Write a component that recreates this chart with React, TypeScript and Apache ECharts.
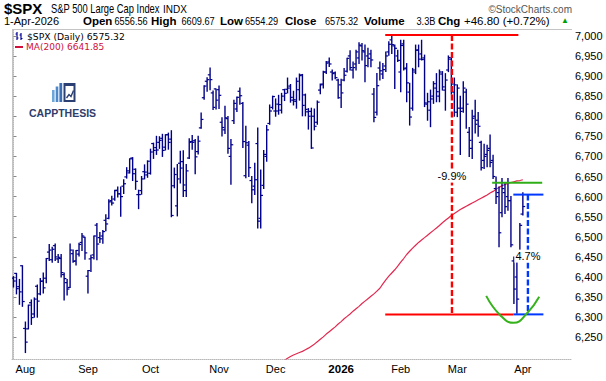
import React, { useEffect, useRef } from "react";
import * as echarts from "echarts";

// ---------- DATA ----------
// Daily OHLC, 28-Jul-2025 .. 1-Apr-2026 (index 0 = 28-Jul-2025)
const opens = [
  6397, 6409, 6376, 6428, 6272, 6271, 6336, 6308, 6377, 6358,
  6390, 6397, 6462, 6443, 6478, 6445, 6446, 6406, 6386, 6374,
  6458, 6440, 6457, 6486, 6499, 6402, 6445, 6455, 6529, 6498,
  6502, 6541, 6546, 6590, 6594, 6616, 6607, 6626, 6649, 6659,
  6696, 6668, 6605, 6615, 6662, 6654, 6658, 6732, 6722, 6735,
  6745, 6723, 6754, 6743, 6627, 6577, 6683, 6687, 6615, 6696,
  6737, 6739, 6712, 6771, 6846, 6887, 6903, 6858, 6868, 6866,
  6785, 6766, 6794, 6700, 6789, 6818, 6862, 6832, 6652, 6728,
  6640, 6626, 6732, 6546, 6628, 6700, 6782, 6822, 6813, 6830,
  6815, 6866, 6867, 6875, 6840, 6837, 6866, 6903, 6853, 6811,
  6812, 6800, 6785, 6865, 6880, 6910, 6935, 6910, 6908, 6890,
  6878, 6890, 6912, 6950, 6915, 6930, 6945, 6975, 6960, 6950,
  6955, 6855, 6810, 6920, 6905, 6925, 6960, 6990, 6975, 6950,
  6910, 6980, 6920, 6860, 6820, 6910, 6965, 6955, 6945, 6830,
  6815, 6850, 6870, 6850, 6905, 6865, 6915, 6942, 6860, 6810,
  6820, 6820, 6860, 6760, 6720, 6800, 6790, 6735, 6690, 6705,
  6720, 6690, 6620, 6610, 6560, 6610, 6600, 6590, 6440, 6400,
  6460, 6556.56,
];
const highs = [
  6401, 6409, 6394, 6428, 6288, 6330, 6343, 6348, 6380, 6396,
  6410, 6446, 6481, 6474, 6482, 6456, 6456, 6410, 6394, 6482,
  6467, 6466, 6484, 6508, 6499, 6416, 6454, 6502, 6533, 6511,
  6516, 6555, 6592, 6601, 6616, 6624, 6624, 6642, 6672, 6694,
  6697, 6669, 6616, 6650, 6679, 6689, 6718, 6733, 6750, 6749,
  6755, 6754, 6758, 6764, 6671, 6680, 6713, 6714, 6680, 6744,
  6752, 6742, 6750, 6808, 6876, 6896, 6920, 6863, 6868, 6875,
  6796, 6825, 6799, 6742, 6840, 6848, 6870, 6834, 6775, 6737,
  6650, 6683, 6771, 6666, 6715, 6777, 6828, 6850, 6843, 6852,
  6857, 6867, 6895, 6879, 6862, 6895, 6905, 6904, 6855, 6819,
  6820, 6818, 6838, 6880, 6912, 6936, 6945, 6915, 6910, 6892,
  6892, 6919, 6944, 6963, 6935, 6964, 6983, 6981, 6977, 6969,
  6964, 6869, 6906, 6935, 6931, 6960, 6985, 7002, 6977, 6964,
  6989, 6989, 6931, 6882, 6919, 6977, 6977, 6989, 6952, 6857,
  6865, 6886, 6906, 6915, 6911, 6906, 6950, 6946, 6895, 6878,
  6850, 6886, 6867, 6772, 6815, 6840, 6809, 6738, 6730, 6728,
  6753, 6703, 6649, 6624, 6645, 6633, 6645, 6600, 6450, 6440,
  6533, 6609.67,
];
const lows = [
  6375, 6358, 6332, 6327, 6212, 6271, 6282, 6300, 6300, 6356,
  6360, 6386, 6441, 6437, 6441, 6436, 6400, 6343, 6355, 6374,
  6437, 6430, 6452, 6466, 6444, 6360, 6414, 6445, 6443, 6486,
  6484, 6515, 6545, 6579, 6591, 6599, 6551, 6608, 6646, 6659,
  6640, 6618, 6570, 6606, 6644, 6648, 6656, 6695, 6705, 6720,
  6700, 6716, 6718, 6550, 6622, 6552, 6634, 6600, 6600, 6695,
  6718, 6657, 6706, 6770, 6842, 6862, 6866, 6817, 6818, 6819,
  6751, 6757, 6708, 6631, 6782, 6812, 6830, 6722, 6647, 6650,
  6585, 6605, 6522, 6522, 6620, 6688, 6780, 6818, 6800, 6805,
  6808, 6839, 6858, 6835, 6828, 6820, 6840, 6801, 6801, 6768,
  6720, 6766, 6780, 6856, 6870, 6906, 6924, 6890, 6893, 6845,
  6822, 6888, 6910, 6915, 6895, 6915, 6931, 6940, 6886, 6923,
  6923, 6786, 6803, 6890, 6894, 6911, 6952, 6956, 6869, 6936,
  6861, 6915, 6836, 6778, 6815, 6906, 6923, 6940, 6824, 6790,
  6774, 6832, 6836, 6836, 6865, 6815, 6911, 6855, 6800, 6799,
  6705, 6810, 6770, 6700, 6695, 6758, 6750, 6666, 6670, 6674,
  6674, 6645, 6583, 6475, 6550, 6558, 6566, 6475, 6334, 6310,
  6450, 6554.29,
];
const closes = [
  6390, 6371, 6363, 6339, 6238, 6330, 6299, 6345, 6340, 6389,
  6373, 6446, 6467, 6469, 6450, 6449, 6411, 6396, 6370, 6467,
  6439, 6466, 6481, 6502, 6460, 6416, 6448, 6502, 6482, 6495,
  6513, 6532, 6587, 6584, 6615, 6607, 6600, 6632, 6664, 6694,
  6657, 6638, 6605, 6644, 6661, 6688, 6711, 6715, 6716, 6740,
  6715, 6754, 6735, 6553, 6655, 6644, 6671, 6629, 6664, 6735,
  6735, 6699, 6738, 6792, 6875, 6891, 6891, 6822, 6840, 6852,
  6772, 6796, 6720, 6729, 6832, 6847, 6851, 6737, 6734, 6672,
  6617, 6642, 6539, 6603, 6705, 6766, 6813, 6849, 6813, 6829,
  6850, 6857, 6870, 6847, 6841, 6887, 6901, 6827, 6817, 6800,
  6721, 6775, 6835, 6878, 6910, 6932, 6930, 6906, 6896, 6846,
  6858, 6902, 6944, 6921, 6921, 6960, 6977, 6963, 6926, 6944,
  6940, 6797, 6876, 6913, 6916, 6950, 6979, 6978, 6969, 6939,
  6976, 6918, 6883, 6798, 6915, 6964, 6942, 6941, 6833, 6836,
  6843, 6881, 6861, 6910, 6873, 6890, 6946, 6880, 6878, 6870,
  6812, 6870, 6830, 6740, 6795, 6780, 6775, 6672, 6700, 6715,
  6685, 6650, 6600, 6510, 6620, 6575, 6590, 6480, 6370, 6345,
  6528.52, 6575.32,
];

// 200-day moving average, starting at bar index 91
const ma200Start = 91;
const ma200 = [
  6193, 6198, 6202, 6206, 6209, 6212, 6215, 6219, 6223, 6228,
  6233, 6239, 6245, 6251, 6258, 6264, 6270, 6276, 6283, 6289,
  6296, 6302, 6308, 6315, 6321, 6327, 6334, 6340, 6346, 6352,
  6358, 6365, 6372, 6383, 6393, 6402, 6410, 6418, 6427, 6437,
  6446, 6456, 6464, 6472, 6479, 6486, 6492, 6498, 6504, 6510,
  6516, 6522, 6528, 6535, 6541, 6547, 6553, 6558, 6563, 6568,
  6572, 6576, 6580, 6584, 6588, 6592, 6596, 6600, 6604, 6609,
  6613, 6618, 6623, 6627, 6630, 6633, 6635, 6637, 6639, 6640,
  6641.85,
];

// x-axis: first trading day of each month (bar index) and its label
const monthStarts = [4, 25, 46, 69, 88, 110, 130, 149, 171];
const monthLabels = ["Aug", "Sep", "Oct", "Nov", "Dec", "2026", "Feb", "Mar", "Apr"];
const priceTicks = [6250, 6300, 6350, 6400, 6450, 6500, 6550, 6600, 6650, 6700, 6750, 6800, 6850, 6900, 6950, 7000];

// header quote line
const quoteLabels = ["Open", "High", "Low", "Close", "Volume", "Chg"];
const quoteValues = ["6556.56", "6609.67", "6554.29", "6575.32", "3.3B", "+46.80 (+0.72%)"];

// annotations (in data units: bar index, price)
const peakPrice = 7002;
const lowPrice = 6307;
const reboundPrice = 6605;
const maLevelPrice = 6634.5;
const dropX = 147.2;
const reboundX = 172.7;
const smileX = [158.7, 163.4, 167.9, 172.4, 176.5];
const smileY = [6353, 6305, 6286, 6310, 6351];

const BAR = "#000088";
const FONT = '"Liberation Sans", Arial, sans-serif';

export default function App() {
  const ref = useRef<HTMLDivElement>(null);
  useEffect(() => {
    const chart = echarts.init(ref.current!, null, { renderer: "svg" });
    const ohlc = opens.map((o, i) => [i, o, highs[i], lows[i], closes[i]]);
    const maData = ma200.map((v, k) => [ma200Start + k, v]);

    const seg = (data: number[][], color: string, width: number, type: any = "solid", z = 6) => ({
      type: "line",
      data,
      showSymbol: false,
      symbol: "none",
      silent: true,
      clip: false,
      z,
      lineStyle: { color, width, type, cap: "butt" },
    });
    const label = (x: number, y: number, text: string) => ({
      type: "custom",
      data: [[x, y]],
      z: 9,
      silent: true,
      clip: false,
      renderItem: (_p: any, api: any) => {
        const pt = api.coord([api.value(0), api.value(1)]);
        return {
          type: "text",
          x: pt[0],
          y: pt[1],
          style: {
            text,
            fill: "#000",
            font: `11px ${FONT}`,
            align: "center",
            textAlign: "center",
            verticalAlign: "middle",
            textVerticalAlign: "middle",
            backgroundColor: "#fff",
            padding: [1, 1],
          },
        };
      },
    });

    const txt = (x: number, y: number, text: string, font: string, fill = "#000", scaleX = 1, align = "left") => ({
      type: "text",
      x,
      y,
      scaleX,
      style: { text, fill, font, align, textAlign: align, verticalAlign: "middle", textVerticalAlign: "middle" },
    });

    const labelX = [83, 151, 220, 285, 364, 438];
    const valueX = [114.5, 181.5, 245, 325, 416.5, 464];
    const quoteEls: any[] = [];
    quoteLabels.forEach((l, k) => {
      quoteEls.push(txt(labelX[k], 21, l, `bold 11.5px ${FONT}`));
      const last = k === quoteValues.length - 1;
      quoteEls.push(txt(valueX[k], 21, quoteValues[k], `11.5px ${FONT}`, "#000", last ? 1 : 0.8));
    });

    const option: any = {
      animation: false,
      backgroundColor: "#fff",
      grid: { left: 12, right: 34, top: 29, bottom: 22, show: false },
      xAxis: {
        type: "value",
        min: -0.5,
        max: 187.5,
        axisLine: { show: true, lineStyle: { color: "#b8b8b8", type: "dotted" } },
        axisTick: { show: false },
        splitLine: { show: false },
        axisLabel: {
          customValues: monthStarts,
          margin: 4,
          color: "#000",
          fontSize: 11,
          fontFamily: FONT,
          formatter: (v: number) => {
            const s = monthLabels[monthStarts.indexOf(v)] || "";
            return s === "2026" ? "{b|2026}" : s;
          },
          rich: { b: { fontWeight: "bold", fontSize: 11.5, color: "#000", fontFamily: FONT } },
        },
      },
      yAxis: {
        type: "value",
        position: "right",
        min: 6196,
        max: 7017,
        splitLine: { show: false },
        axisLine: { show: true, lineStyle: { color: "#b8b8b8", type: "dotted" } },
        axisTick: { show: true, customValues: priceTicks, length: 3, lineStyle: { color: "#888" } },
        axisLabel: { customValues: priceTicks, margin: 3, color: "#000", fontSize: 11, fontFamily: FONT },
      },
      series: [
        {
          type: "line",
          data: maData,
          showSymbol: false,
          symbol: "none",
          z: 2,
          clip: true,
          lineStyle: { color: "#e2284f", width: 1.2 },
        },
        {
          type: "custom",
          data: ohlc,
          z: 3,
          clip: true,
          encode: { x: 0, y: [1, 2, 3, 4] },
          renderItem: (_p: any, api: any) => {
            const i = api.value(0);
            const h = api.coord([i, api.value(2)]);
            const l = api.coord([i, api.value(3)]);
            const o = api.coord([i, api.value(1)]);
            const c = api.coord([i, api.value(4)]);
            const x = h[0];
            return {
              type: "group",
              children: [
                { type: "line", shape: { x1: x, y1: h[1] - 0.5, x2: x, y2: l[1] + 0.5 }, style: { stroke: BAR, lineWidth: 1.4 } },
                { type: "line", shape: { x1: x - 2.3, y1: o[1], x2: x, y2: o[1] }, style: { stroke: BAR, lineWidth: 1.2 } },
                { type: "line", shape: { x1: x, y1: c[1], x2: x + 2.3, y2: c[1] }, style: { stroke: BAR, lineWidth: 1.2 } },
              ],
            };
          },
        },
        seg([[124.8, peakPrice], [169.5, peakPrice]], "#ff0000", 2),
        seg([[124.8, lowPrice], [167.8, lowPrice]], "#ff0000", 2),
        seg([[dropX, peakPrice], [dropX, lowPrice]], "#ff0000", 2.4, [6, 2.5]),
        seg([[167.8, lowPrice], [177.9, lowPrice]], "#0038ff", 2),
        seg([[167.8, reboundPrice], [177.9, reboundPrice]], "#0038ff", 2),
        seg([[reboundX, reboundPrice], [reboundX, lowPrice]], "#0038ff", 2.4, [6, 2.5]),
        seg([[160.7, maLevelPrice], [177.5, maLevelPrice]], "#2fae17", 2),
        { ...seg(smileX.map((x, k) => [x, smileY[k]]), "#36b21c", 2, "solid", 7), smooth: true },
        label(dropX, 6651, "-9.9%"),
        label(reboundX, 6452, "4.7%"),
      ],
      graphic: [
        // frame (left/top)
        { type: "line", shape: { x1: 12.5, y1: 29, x2: 12.5, y2: 359 }, style: { stroke: "#c4c4c4", lineWidth: 1 } },
        { type: "line", shape: { x1: 12, y1: 29.5, x2: 572, y2: 29.5 }, style: { stroke: "#c4c4c4", lineWidth: 1 } },
        // header line 1
        txt(4, 8, "$SPX", `bold 15px ${FONT}`),
        txt(51, 9, "S&P 500 Large Cap Index", `12px ${FONT}`, "#000", 0.78),
        txt(163, 9.5, "INDX", `10px ${FONT}`),
        txt(572, 9, "©StockCharts.com", `10px ${FONT}`, "#555", 1, "right"),
        // header line 2
        txt(4, 21, "1-Apr-2026", `11px ${FONT}`),
        ...quoteEls,
        txt(561, 20.5, "▲", `8px ${FONT}`, "#00a000"),
        // legend
        { type: "line", shape: { x1: 17, y1: 32, x2: 17, y2: 40 }, style: { stroke: "#000099", lineWidth: 1.2 } },
        { type: "line", shape: { x1: 15.5, y1: 34, x2: 17, y2: 34 }, style: { stroke: "#000099", lineWidth: 1 } },
        { type: "line", shape: { x1: 17, y1: 38, x2: 18.5, y2: 38 }, style: { stroke: "#000099", lineWidth: 1 } },
        { type: "line", shape: { x1: 21, y1: 33, x2: 21, y2: 40 }, style: { stroke: "#000099", lineWidth: 1.2 } },
        { type: "line", shape: { x1: 19.5, y1: 35, x2: 21, y2: 35 }, style: { stroke: "#000099", lineWidth: 1 } },
        { type: "line", shape: { x1: 21, y1: 38.5, x2: 22.5, y2: 38.5 }, style: { stroke: "#000099", lineWidth: 1 } },
        txt(27, 36, "$SPX (Daily) 6575.32", `9.2px "DejaVu Sans", sans-serif`),
        { type: "line", shape: { x1: 15, y1: 47, x2: 23, y2: 47 }, style: { stroke: "#d0103a", lineWidth: 2 } },
        txt(26, 47, "MA(200) 6641.85", `9px "DejaVu Sans", sans-serif`, "#d0103a"),
        // logo
        { type: "rect", shape: { x: 52, y: 90, width: 2.6, height: 12 }, style: { fill: "#6ea6da" } },
        { type: "rect", shape: { x: 55.7, y: 86.5, width: 2.6, height: 15.5 }, style: { fill: "#4f88c8" } },
        { type: "rect", shape: { x: 59.4, y: 83, width: 2.8, height: 19 }, style: { fill: "#3a6db3" } },
        { type: "polygon", shape: { points: [[63.5, 83], [75.5, 83], [75.5, 102], [63.5, 102]] }, style: { fill: "#2b3f73" } },
        { type: "rect", shape: { x: 65.5, y: 86, width: 8, height: 14 }, style: { fill: "#ffffff" } },
        { type: "polyline", shape: { points: [[66.5, 98], [69, 94.5], [71, 96.5], [73.5, 90.5]] }, style: { stroke: "#2b3f73", lineWidth: 1.4, fill: null } },
        txt(29, 113, "CAPPTHESIS", `bold 10.5px ${FONT}`, "#2e3d6b"),
      ],
    };
    chart.setOption(option);
    return () => chart.dispose();
  }, []);
  return (
    <div
      ref={ref}
      style={{ position: "fixed", left: 0, top: 0, width: 606, height: 381, background: "#fff" }}
    />
  );
}
